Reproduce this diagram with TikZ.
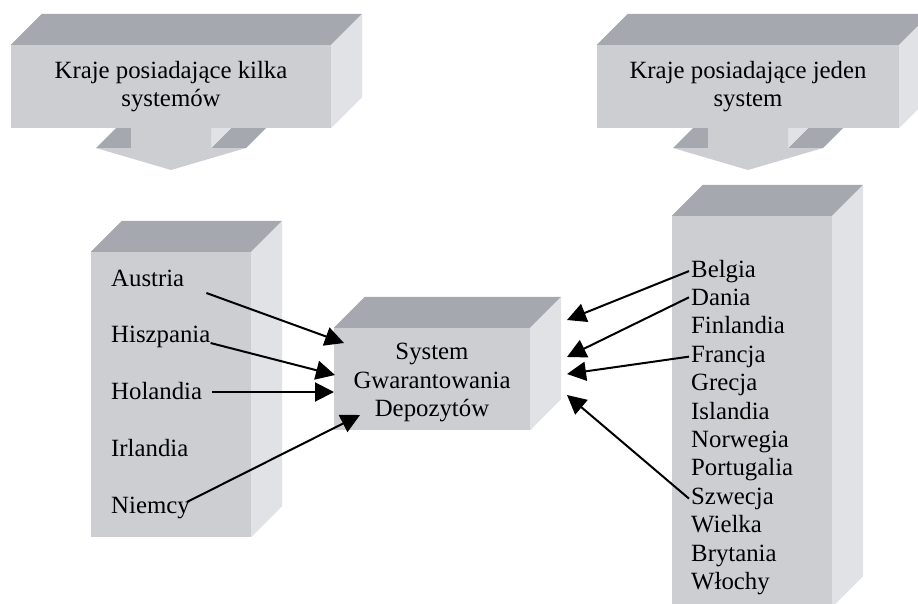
\documentclass[tikz,border=0pt]{standalone}
\usepackage{fontspec}
\setmainfont{Liberation Serif}
\usepackage{xcolor}
\usepackage{tikz}
\usetikzlibrary{arrows.meta}
\definecolor{facefront}{RGB}{205,206,210}
\definecolor{facetop}{RGB}{165,168,174}
\definecolor{faceside}{RGB}{224,226,230}
\tikzset{
    boxfront/.style = {fill=facefront, inner sep=0pt, align=center},
    boxtop/.style = {fill=facetop},
    boxside/.style = {fill=faceside},
}

\begin{document}
\begin{tikzpicture}[
    x=1pt, y=-1pt,
    font=\fontsize{24.8}{28.4}\selectfont
]
\tikzset{
    country/.style = {anchor=base west, inner sep=0pt},
    arr/.style = {-{Triangle[length=19pt,width=19pt]}, line width=2pt}
}
\useasboundingbox (0,0) rectangle (918,603);
\clip (0,0) rectangle (918,603);
% left callout
\fill[boxtop] (96,148) -- (131,148) -- ++(31,-31) -- ++(-35,0) -- cycle;
\fill[boxtop] (211,148) -- (246,148) -- ++(31,-31) -- ++(-35,0) -- cycle;
\fill[boxside] (211,120) -- (211,148) -- ++(31,-31) -- ++(0,-28) -- cycle;
\fill[facefront] (131,120) -- (211,120) -- (211,148) -- (246,148) -- (171,170) -- (96,148) -- (131,148) -- cycle;
\node[boxfront, minimum width=320, minimum height=83] (kilka) at (171,86.5) {Kraje posiadające kilka\\systemów};
\fill[boxtop] (kilka.north west) -- ++(31,-31) -- ([shift={(31,-31)}]kilka.north east) -- (kilka.north east) -- cycle;
\fill[boxside] (kilka.north east) -- ++(31,-31) -- ([shift={(31,-31)}]kilka.south east) -- (kilka.south east) -- cycle;
% right callout
\fill[boxtop] (673,148) -- (708,148) -- ++(31,-31) -- ++(-35,0) -- cycle;
\fill[boxtop] (788,148) -- (823,148) -- ++(31,-31) -- ++(-35,0) -- cycle;
\fill[boxside] (788,120) -- (788,148) -- ++(31,-31) -- ++(0,-28) -- cycle;
\fill[facefront] (708,120) -- (788,120) -- (788,148) -- (823,148) -- (748,170) -- (673,148) -- (708,148) -- cycle;
\node[boxfront, minimum width=302, minimum height=83] (jeden) at (748,86.5) {Kraje posiadające jeden\\system};
\fill[boxtop] (jeden.north west) -- ++(31,-31) -- ([shift={(31,-31)}]jeden.north east) -- (jeden.north east) -- cycle;
\fill[boxside] (jeden.north east) -- ++(31,-31) -- ([shift={(31,-31)}]jeden.south east) -- (jeden.south east) -- cycle;
% boxes
\node[boxfront, minimum width=160, minimum height=285] (lbox) at (171,394.5) {};
\fill[boxtop] (lbox.north west) -- ++(31,-31) -- ([shift={(31,-31)}]lbox.north east) -- (lbox.north east) -- cycle;
\fill[boxside] (lbox.north east) -- ++(31,-31) -- ([shift={(31,-31)}]lbox.south east) -- (lbox.south east) -- cycle;
\node[boxfront, minimum width=196, minimum height=102] (sgd) at (432,379) {};
\fill[boxtop] (sgd.north west) -- ++(31,-31) -- ([shift={(31,-31)}]sgd.north east) -- (sgd.north east) -- cycle;
\fill[boxside] (sgd.north east) -- ++(31,-31) -- ([shift={(31,-31)}]sgd.south east) -- (sgd.south east) -- cycle;
\node[align=center, inner sep=0pt] (sgdtext) at (432,382.5) {System\\Gwarantowania\\Depozytów};
\node[boxfront, minimum width=160, minimum height=391] (rbox) at (752,411.5) {};
\fill[boxtop] (rbox.north west) -- ++(31,-31) -- ([shift={(31,-31)}]rbox.north east) -- (rbox.north east) -- cycle;
\fill[boxside] (rbox.north east) -- ++(31,-31) -- ([shift={(31,-31)}]rbox.south east) -- (rbox.south east) -- cycle;
% countries
\node[country] (austria) at (111,286) {Austria};
\node[country] (hiszpania) at (111,342) {Hiszpania};
\node[country] (holandia) at (111,399) {Holandia};
\node[country] (irlandia) at (111,456) {Irlandia};
\node[country] (niemcy) at (111,513) {Niemcy};
\node[country] (belgia) at (691,277) {Belgia};
\node[country] (dania) at (691,305.4) {Dania};
\node[country] (finlandia) at (691,333.8) {Finlandia};
\node[country] (francja) at (691,362.2) {Francja};
\node[country] (grecja) at (691,390.6) {Grecja};
\node[country] (islandia) at (691,419) {Islandia};
\node[country] (norwegia) at (691,447.4) {Norwegia};
\node[country] (portugalia) at (691,475.8) {Portugalia};
\node[country] (szwecja) at (691,504.2) {Szwecja};
\node[country] (wielka) at (691,532.6) {Wielka};
\node[country] (brytania) at (691,561) {Brytania};
\node[country] (wlochy) at (691,589.4) {Włochy};
% arrow tips
\coordinate (ta) at (344,343);
\coordinate (thi) at (335,375);
\coordinate (tho) at (334,392);
\coordinate (tn) at (360,415);
\coordinate (tb) at (567,320);
\coordinate (td) at (567,357);
\coordinate (tf) at (567,374);
\coordinate (ts) at (567,395);
\draw[arr] ([shift={(22,7)}]austria.base east) -- (ta);
\draw[arr] ([shift={(0,1)}]hiszpania.base east) -- (thi);
\draw[arr] ([shift={(10,-7)}]holandia.base east) -- (tho);
\draw[arr] ([shift={(-3,-11)}]niemcy.base east) -- (tn);
\draw[arr] ([xshift=-2pt]belgia.west) -- (tb);
\draw[arr] ([xshift=-2pt]dania.west) -- (td);
\draw[arr] ([xshift=-2pt]francja.west) -- (tf);
\draw[arr] ([xshift=-2pt]szwecja.west) -- (ts);
\end{tikzpicture}
\end{document}
